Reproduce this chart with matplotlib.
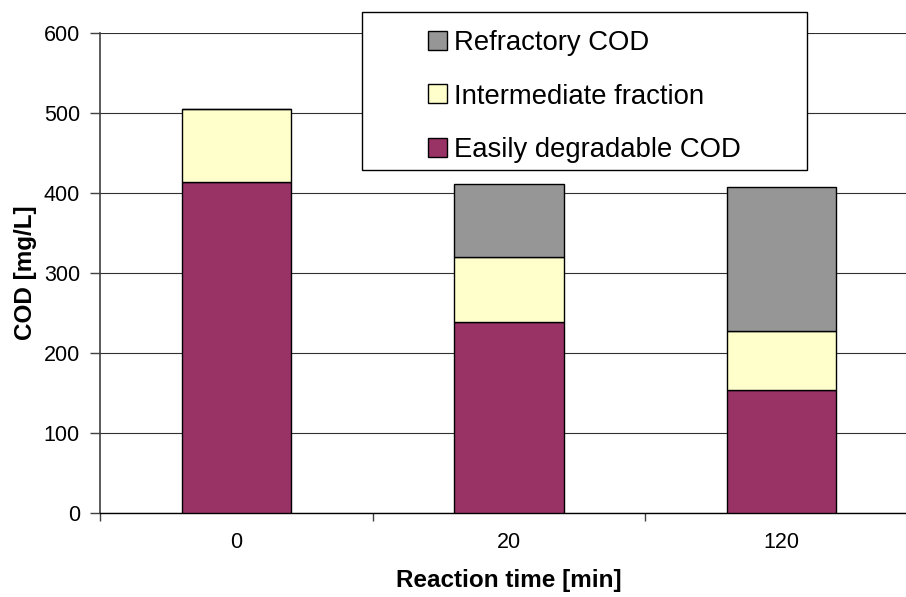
import matplotlib.pyplot as plt
from matplotlib.patches import Rectangle
import numpy as np

plt.rcParams["font.family"] = ["Liberation Sans", "DejaVu Sans"]

times = ["0", "20", "120"]
easily = [414, 239, 154]
intermediate = [91, 81, 74]
refractory = [0, 91, 179]

labels = ["Easily degradable COD", "Intermediate fraction", "Refractory COD"]
colors = ["#993366", "#FFFFCC", "#969696"]

fig = plt.figure(figsize=(9.06, 5.97), dpi=100)
ax = fig.add_axes([100 / 906, 84 / 597, 818 / 906, 480 / 597])

x = np.arange(len(times))
width = 0.40
bottom = np.zeros(len(times))
handles = []
for vals, lab, col in zip([easily, intermediate, refractory], labels, colors):
    vals = np.array(vals, dtype=float)
    bars = ax.bar(x, vals, width, bottom=bottom, color=col, edgecolor="black",
                  linewidth=1.0, label=lab, zorder=3)
    handles.append(bars)
    bottom += vals

ax.set_xlim(-0.5, 2.5)
ax.set_ylim(0, 600)
ax.set_yticks(range(0, 601, 100))
ax.yaxis.grid(True, color="#303030", linewidth=0.8, zorder=0)
ax.set_axisbelow(True)

ax.set_xticks(x)
ax.set_xticklabels(times)
ax.set_xticks([-0.5, 0.5, 1.5, 2.5], minor=True)
ax.tick_params(axis="x", which="major", length=0, pad=14, labelsize=15.5)
ax.tick_params(axis="x", which="minor", length=6, width=1, color="#404040")
ax.tick_params(axis="y", length=7, width=1, color="#404040", labelsize=15.5, pad=7.5)

for s in ["top", "right"]:
    ax.spines[s].set_visible(False)
ax.spines["left"].set_color("#404040")
ax.spines["left"].set_linewidth(1.2)
ax.spines["bottom"].set_color("black")
ax.spines["bottom"].set_linewidth(1.0)

ax.set_xlabel("Reaction time [min]", fontsize=17.5, fontweight="bold", labelpad=11)
ax.set_ylabel("COD [mg/L]", fontsize=17.5, fontweight="bold", labelpad=5)

# legend frame drawn separately so its padding matches the original
fig.patches.append(Rectangle((362 / 906, 1 - 170 / 597), 445 / 906, 158 / 597,
                             transform=fig.transFigure, facecolor="white",
                             edgecolor="black", linewidth=1.0, zorder=5))
leg = fig.legend(handles[::-1], labels[::-1], loc="upper left",
                 bbox_to_anchor=(428 / 906, 1 - 30 / 597), frameon=False,
                 fontsize=19.8, handlelength=0.68, handleheight=0.68,
                 handletextpad=0.25, labelspacing=1.0, borderaxespad=0,
                 borderpad=0)
leg.set_zorder(6)

fig.savefig("out.png", dpi=100)
